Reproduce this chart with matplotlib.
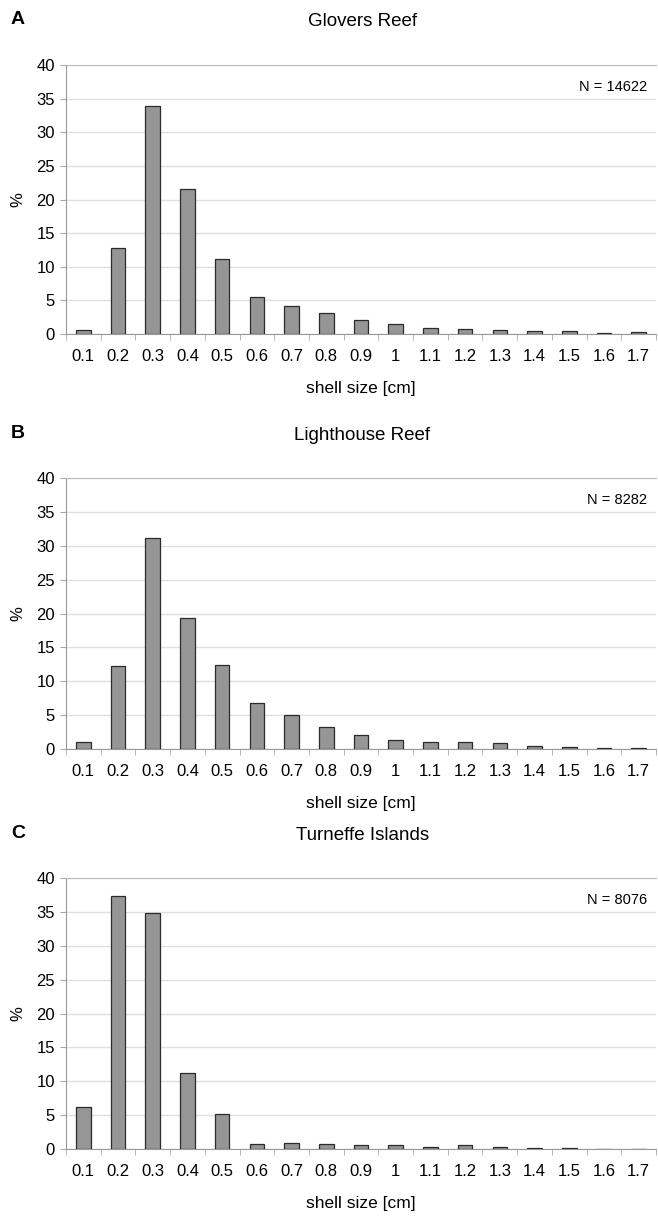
import numpy as np
import matplotlib
matplotlib.use("Agg")
import matplotlib.pyplot as plt

plt.rcParams['font.family'] = ['Liberation Sans', 'DejaVu Sans']

sizes = ["0.1", "0.2", "0.3", "0.4", "0.5", "0.6", "0.7", "0.8", "0.9", "1",
         "1.1", "1.2", "1.3", "1.4", "1.5", "1.6", "1.7"]

glovers = [0.6, 12.8, 33.9, 21.5, 11.1, 5.5, 4.1, 3.1, 2.1, 1.45,
           0.95, 0.7, 0.55, 0.45, 0.45, 0.15, 0.25]
lighthouse = [1.1, 12.3, 31.2, 19.3, 12.4, 6.8, 5.0, 3.3, 2.0, 1.4,
              1.1, 1.0, 0.95, 0.45, 0.35, 0.2, 0.15]
turneffe = [6.2, 37.3, 34.9, 11.2, 5.2, 0.8, 0.9, 0.75, 0.65, 0.55,
            0.3, 0.55, 0.35, 0.15, 0.15, 0.0, 0.0]

panels = [
    ("A", "Glovers Reef", "N = 14622", glovers),
    ("B", "Lighthouse Reef", "N = 8282", lighthouse),
    ("C", "Turneffe Islands", "N = 8076", turneffe),
]

W, H = 658, 1228
fig = plt.figure(figsize=(W / 100, H / 100), dpi=100)

# axes boxes in pixels: (top, bottom)
boxes = [(65, 334), (478, 749), (878, 1149)]
left_px, right_px = 66, 656

x = np.arange(len(sizes))
for (letter, title, ntext, vals), (top, bot) in zip(panels, boxes):
    ax = fig.add_axes([left_px / W, 1 - bot / H, (right_px - left_px) / W, (bot - top) / H])
    ax.bar(x, vals, width=0.42, color="#969696", edgecolor="#2b2b2b", linewidth=0.9, zorder=3)
    ax.set_xlim(-0.5, len(sizes) - 0.5)
    ax.set_ylim(0, 40)
    ax.set_yticks(range(0, 45, 5))
    ax.yaxis.grid(True, color="#e0e0e0", linewidth=1.0, zorder=0)
    ax.set_xticks(x)
    ax.set_xticklabels(sizes, fontsize=12)
    ax.tick_params(axis="x", which="major", length=0, pad=11)
    ax.set_xticks(np.arange(-0.5, len(sizes)), minor=True)
    ax.tick_params(axis="x", which="minor", length=4, color="#aaaaaa")
    ax.tick_params(axis="y", length=4, color="#aaaaaa", labelsize=12, pad=4)
    for s in ["left", "bottom"]:
        ax.spines[s].set_color("#999999")
    ax.spines["top"].set_color("#bbbbbb")
    ax.spines["right"].set_visible(False)
    ax.set_ylabel("%", fontsize=12, labelpad=8)
    ax.set_xlabel("shell size [cm]", fontsize=12.5, labelpad=12)
    ax.text(0.985, 0.92, ntext, transform=ax.transAxes, ha="right", va="center", fontsize=10.5)
    fig.text((left_px + right_px) / 2 / W + 0.002, 1 - (top - 43) / H, title,
             ha="center", va="center", fontsize=13.5)
    fig.text(11 / W, 1 - (top - 45) / H, letter, ha="left", va="center",
             fontsize=14, fontweight="bold")

fig.savefig("out.png", dpi=100)
